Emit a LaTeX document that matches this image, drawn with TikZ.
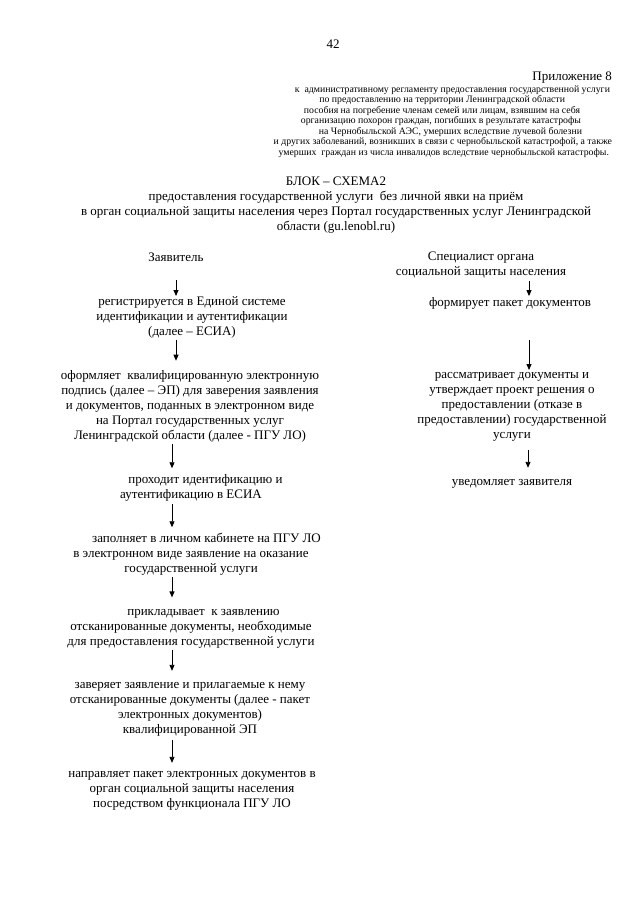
\documentclass[tikz,border=0pt]{standalone}
\usepackage{fontspec}
\setmainfont{Liberation Serif}
\usetikzlibrary{arrows.meta}
\begin{document}
\begin{tikzpicture}[x=1pt,y=-1pt,
  every node/.style={inner sep=0pt,outer sep=0pt},
  body/.style={font=\fontsize{13}{15}\selectfont, align=center,
    execute at begin node=\strut, execute at end node=\strut},
  ttl/.style={font=\fontsize{13}{15.3}\selectfont, align=center,
    execute at begin node=\strut, execute at end node=\strut},
  hdr/.style={font=\fontsize{9.8}{10.5}\selectfont, anchor=base east},
  arr/.style={line width=0.9pt, -{Triangle[length=6pt,width=5pt]}}]
\useasboundingbox (0,0) rectangle (640,905);
\fill[white] (0,0) rectangle (640,905);

% page number and header
\node[body] (pg) at (333,45) {42};
\node[body, anchor=base east] (app) at (612,80) {Приложение 8};
\node[hdr] (h1) at (610,92.3) {к\ \ административному регламенту предоставления государственной услуги};
\node[hdr] (h2) at (565,102.8) {по предоставлению на территории Ленинградской области};
\node[hdr] (h3) at (580,113.3) {пособия на погребение членам семей или лицам, взявшим на себя};
\node[hdr] (h4) at (581,123.8) {организацию похорон граждан, погибших в результате катастрофы};
\node[hdr] (h5) at (582,134.3) {на Чернобыльской АЭС, умерших вследствие лучевой болезни};
\node[hdr] (h6) at (612,144.8) {и других заболеваний, возникших в связи с чернобыльской катастрофой, а также};
\node[hdr] (h7) at (609,155.3) {умерших\ \ граждан из числа инвалидов вследствие чернобыльской катастрофы.};

% title
\node[ttl] (title) at (336,206) {БЛОК – СХЕМА2\\
предоставления государственной услуги\ \ без личной явки на приём\\
в орган социальной защиты населения через Портал государственных услуг Ленинградской\\
области (gu.lenobl.ru)};

% column heads
\node[body] (L0) at (176,258) {Заявитель};
\node[body] (R0) at (481,265.5) {Специалист органа\\социальной защиты населения};

% left column
\node[body] (L1) at (192,318) {регистрируется в Единой системе\\идентификации и аутентификации\\(далее – ЕСИА)};
\node[body] (L2) at (190,407) {оформляет\ \ квалифицированную электронную\\подпись (далее – ЭП) для заверения заявления\\и документов, поданных в электронном виде\\на Портал государственных услуг\\Ленинградской области (далее - ПГУ ЛО)};
\node[body] (L3) at (191,488.5) {\hspace*{29pt}проходит идентификацию и\\аутентификацию в ЕСИА};
\node[body] (L4) at (191,555) {\hspace*{31pt}заполняет в личном кабинете на ПГУ ЛО\\в электронном виде заявление на оказание\\государственной услуги};
\node[body] (L5) at (191,630) {\hspace*{25pt}прикладывает\ \ к заявлению\\отсканированные документы, необходимые\\для предоставления государственной услуги};
\node[body] (L6) at (190,710.5) {заверяет заявление и прилагаемые к нему\\отсканированные документы (далее - пакет\\электронных документов)\\квалифицированной ЭП};
\node[body] (L7) at (192,792) {направляет пакет электронных документов в\\орган социальной защиты населения\\посредством функционала ПГУ ЛО};

% right column
\node[body] (R1) at (510,303) {формирует пакет документов};
\node[body] (R2) at (512,408) {рассматривает документы и\\утверждает проект решения о\\предоставлении (отказе в\\предоставлении) государственной\\услуги};
\node[body] (R3) at (512,482) {уведомляет заявителя};

% arrow columns
\coordinate (xa) at (176,0);
\coordinate (xb) at (172,0);
\coordinate (xr) at (529,0);
\coordinate (xs) at (528,0);

\draw[arr] (L0.south -| xa) ++(0,14.5) -- ++(0,16);
\draw[arr] (L1.south -| xa) ++(0,0) -- ++(0,21);
\draw[arr] (L2.south -| xb) ++(0,0.5) -- ++(0,24);
\draw[arr] (L3.south -| xb) ++(0,1.5) -- ++(0,23);
\draw[arr] (L4.south -| xb) ++(0,0.5) -- ++(0,20);
\draw[arr] (L5.south -| xb) ++(0,-0.5) -- ++(0,21);
\draw[arr] (L6.south -| xb) ++(0,1.5) -- ++(0,23);

\draw[arr] (R0.south -| xr) ++(0,1.5) -- ++(0,15);
\draw[arr] (R1.south -| xr) ++(0,29.5) -- ++(0,30);
\draw[arr] (R2.south -| xs) ++(0,6.5) -- ++(0,18);
\end{tikzpicture}
\end{document}
